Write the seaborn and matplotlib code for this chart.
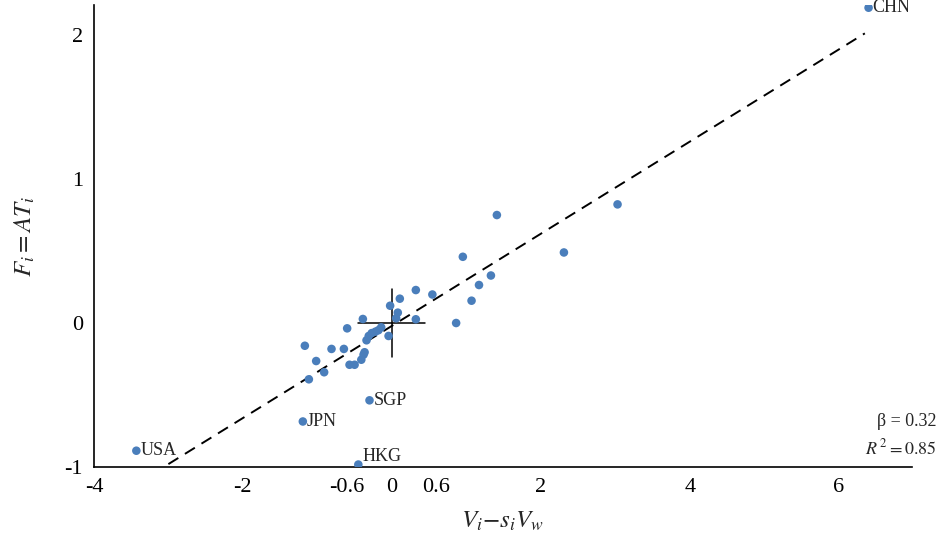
import numpy as np
import pandas as pd
import matplotlib
matplotlib.use("Agg")
import matplotlib.pyplot as plt
import seaborn as sns

# values
x_vals = [6.40, 3.03, 1.41, 2.31, 0.953, 1.33, 1.17, 1.07, 0.863, 0.544,
          0.322, 0.107, -0.023, 0.08, 0.058, 0.322, -0.389, -0.60, -0.044, -0.143,
          -0.18, -0.27, -0.31, -0.34, -0.22, -1.168, -0.81, -0.644, -1.016, -0.366,
          -0.38, -0.41, -0.568, -0.50, -0.909, -1.114, -0.30, -1.195, -3.43, -0.45]
y_vals = [2.19, 0.824, 0.75, 0.49, 0.46, 0.33, 0.264, 0.155, 0.0, 0.198,
          0.229, 0.169, 0.12, 0.072, 0.033, 0.026, 0.028, -0.037, -0.09, -0.03,
          -0.05, -0.07, -0.09, -0.12, -0.06, -0.158, -0.18, -0.18, -0.264, -0.203,
          -0.22, -0.255, -0.29, -0.29, -0.342, -0.391, -0.537, -0.684, -0.887, -0.983]
names = ["CHN"] + [""] * 35 + ["SGP", "JPN", "USA", "HKG"]

beta = 0.32
intercept = -0.02
r2 = 0.85
fit_range = [-3.0, 6.35]
cross_x = 0.45   # half width of the cross at the origin
cross_y = 0.235

x_ticks = [-4, -2, -0.6, 0, 0.6, 2, 4, 6]
x_tick_labels = ["-4", "-2", "-0.6", "0", "0.6", "2", "4", "6"]
y_ticks = [-1, 0, 1, 2]
y_tick_labels = ["-1", "0", "1", "2"]

df = pd.DataFrame({"x": x_vals, "y": y_vals, "name": names})

sns.set_theme(style="white")
plt.rcParams["font.family"] = ["Liberation Serif", "DejaVu Serif"]
plt.rcParams["mathtext.fontset"] = "stix"

fig, ax = plt.subplots(figsize=(9.39, 5.38), dpi=100)
fig.subplots_adjust(left=0.100, right=0.971, bottom=0.132, top=0.991)

# fitted line
fx = np.array(fit_range)
ax.plot(fx, intercept + beta * fx, color="black", lw=1.4, linestyle=(0, (6, 4)), zorder=1)

# cross at the origin
ax.plot([-cross_x, cross_x], [0, 0], color="black", lw=1.1, zorder=1)
ax.plot([0, 0], [-cross_y, cross_y], color="black", lw=1.1, zorder=1)

sns.scatterplot(data=df, x="x", y="y", color="#4A7EBB", s=38, edgecolor="none", ax=ax, zorder=3)

for _, row in df[df["name"] != ""].iterrows():
    dy = 6 if row["name"] == "HKG" else 0
    ax.annotate(row["name"], (row["x"], row["y"]), xytext=(3, dy), textcoords="offset points",
                ha="left", va="center", fontsize=13)

ax.set_xlim(-4, 6.98)
ax.set_ylim(-1, 2.21)
ax.set_xticks(x_ticks)
ax.set_xticklabels(x_tick_labels)
ax.set_yticks(y_ticks)
ax.set_yticklabels(y_tick_labels)
ax.tick_params(axis="x", direction="in", length=6, width=1.2, labelsize=16, pad=8, colors="black")
ax.tick_params(axis="y", direction="out", length=5, width=1.2, labelsize=16, pad=3, colors="black")

for side in ["top", "right"]:
    ax.spines[side].set_visible(False)
for side in ["left", "bottom"]:
    ax.spines[side].set_color("black")
    ax.spines[side].set_linewidth(1.2)

ax.set_xlabel(r"$V_i{-}s_iV_w$", fontsize=18, labelpad=9)
ax.set_ylabel(r"$F_i = AT_i$", fontsize=18, labelpad=20)

fig.text(0.997, 1 - 422 / 538, "β = 0.32", ha="right", va="center", fontsize=13)
fig.text(0.997, 1 - 448 / 538, r"$R^{\,2} = %.2f$" % r2, ha="right", va="center", fontsize=13)

fig.savefig("out.png", dpi=100)
